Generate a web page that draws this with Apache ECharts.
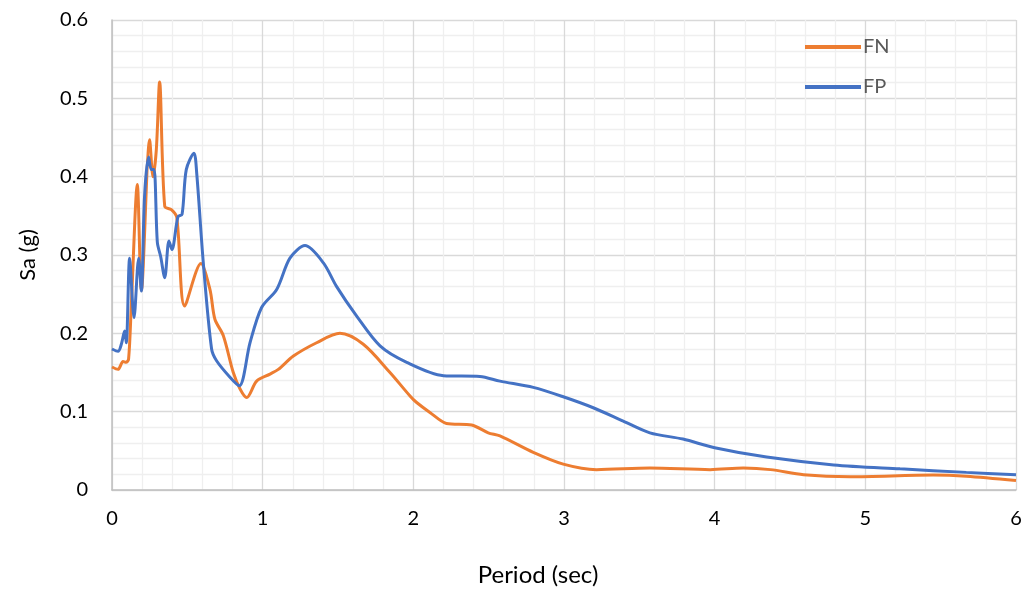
<!DOCTYPE html>
<html>
<head>
<meta charset="utf-8">
<script src="https://cdn.jsdelivr.net/npm/echarts@6/dist/echarts.min.js"></script>
<style>
  html, body { margin: 0; padding: 0; background: #ffffff; }
  #chart { width: 1027px; height: 592px; }
</style>
</head>
<body>
<div id="chart"></div>
<script>
// Response spectra: spectral acceleration vs. period
const seriesNames = ['FN', 'FP'];

const fnPeriod = [0.0, 0.04, 0.073, 0.093, 0.11, 0.128, 0.168, 0.195, 0.25, 0.272, 0.294, 0.316, 0.35, 0.394, 0.43, 0.482,
  0.59, 0.65, 0.683, 0.739, 0.805, 0.85, 0.894, 0.96, 1.049, 1.104, 1.204, 1.358, 1.513, 1.668, 1.845, 1.978, 2.02,
  2.11, 2.22, 2.387, 2.497, 2.575, 2.796, 2.995, 3.216, 3.57, 3.97, 4.19, 4.37, 4.59, 4.9, 5.45, 5.67, 6.0];
const fnSa = [0.157, 0.154, 0.164, 0.163, 0.167, 0.235, 0.39, 0.255, 0.447, 0.40, 0.434, 0.521, 0.362, 0.358, 0.348, 0.235,
  0.289, 0.256, 0.218, 0.197, 0.15, 0.129, 0.118, 0.139, 0.148, 0.154, 0.171, 0.188, 0.200, 0.186, 0.150, 0.120, 0.112,
  0.099, 0.085, 0.083, 0.073, 0.069, 0.048, 0.033, 0.026, 0.028, 0.026, 0.028, 0.026, 0.0195, 0.017, 0.019, 0.0175, 0.012];

const fpPeriod = [0.0, 0.04, 0.062, 0.084, 0.095, 0.117, 0.146, 0.177, 0.195, 0.216, 0.243, 0.261, 0.279, 0.301, 0.323,
  0.35, 0.378, 0.398, 0.438, 0.465, 0.493, 0.544, 0.562, 0.606, 0.661, 0.694, 0.783, 0.845, 0.916, 0.993, 1.093, 1.181,
  1.281, 1.403, 1.49, 1.624, 1.779, 1.956, 2.2, 2.442, 2.575, 2.796, 2.995, 3.194, 3.393, 3.57, 3.79, 4.0, 4.345, 4.79,
  5.23, 5.67, 6.0];
const fpSa = [0.18, 0.177, 0.186, 0.203, 0.188, 0.296, 0.22, 0.296, 0.254, 0.375, 0.425, 0.409, 0.409, 0.316, 0.298,
  0.271, 0.318, 0.307, 0.349, 0.352, 0.409, 0.43, 0.405, 0.29, 0.18, 0.165, 0.144, 0.133, 0.188, 0.233, 0.256, 0.296,
  0.312, 0.29, 0.26, 0.222, 0.184, 0.163, 0.146, 0.145, 0.139, 0.131, 0.119, 0.105, 0.088, 0.073, 0.065, 0.054, 0.042, 0.032,
  0.027, 0.0225, 0.0195];

const xAxisTitle = 'Period (sec)';
const yAxisTitle = 'Sa (g)';

const pairs = (xs, ys) => xs.map((x, i) => [x, ys[i]]);
const FONT = 'Lato, "Open Sans", sans-serif';

const chart = echarts.init(document.getElementById('chart'), null, { renderer: 'canvas' });

chart.setOption({
  animation: false,
  backgroundColor: '#ffffff',
  grid: { left: 112, right: 11, top: 20, bottom: 101, containLabel: false },
  legend: {
    orient: 'vertical',
    left: 800,
    top: 32,
    itemWidth: 56,
    itemHeight: 4,
    itemGap: 20,
    icon: 'rect',
    textStyle: { fontFamily: FONT, fontSize: 20, color: '#595959', padding: [0, 0, 0, -3] },
    data: seriesNames
  },
  xAxis: {
    type: 'value',
    min: 0, max: 6, interval: 1,
    name: xAxisTitle,
    nameLocation: 'middle',
    nameGap: 73,
    // title sits slightly left of the plot centre
    nameTextStyle: { fontFamily: FONT, fontSize: 24, color: '#000000', padding: [0, 52, 0, 0] },
    axisLine: { show: true, lineStyle: { color: '#bfbfbf', width: 1.5 } },
    axisTick: { show: false },
    axisLabel: { fontFamily: FONT, fontSize: 20, color: '#000000', margin: 19 },
    splitLine: { show: true, lineStyle: { color: '#d9d9d9', width: 1.3 } },
    minorTick: { show: false, splitNumber: 5 },
    minorSplitLine: { show: true, lineStyle: { color: '#efefef', width: 1.3 } }
  },
  yAxis: {
    type: 'value',
    min: 0, max: 0.6, interval: 0.1,
    name: yAxisTitle,
    nameLocation: 'middle',
    nameGap: 73,
    nameRotate: 90,
    nameTextStyle: { fontFamily: FONT, fontSize: 22, color: '#000000' },
    axisLine: { show: true, lineStyle: { color: '#bfbfbf', width: 1.5 } },
    axisTick: { show: false },
    axisLabel: { fontFamily: FONT, fontSize: 20, color: '#000000', margin: 24,
      formatter: v => (v === 0 ? '0' : v.toFixed(1)) },
    splitLine: { show: true, lineStyle: { color: '#d9d9d9', width: 1.3 } },
    minorTick: { show: false, splitNumber: 5 },
    minorSplitLine: { show: true, lineStyle: { color: '#efefef', width: 1.3 } }
  },
  series: [
    {
      name: seriesNames[0],
      type: 'line',
      data: pairs(fnPeriod, fnSa),
      smooth: 0.3,
      showSymbol: false,
      symbol: 'none',
      lineStyle: { color: '#ED7D31', width: 3 },
      itemStyle: { color: '#ED7D31' },
      z: 3
    },
    {
      name: seriesNames[1],
      type: 'line',
      data: pairs(fpPeriod, fpSa),
      smooth: 0.3,
      showSymbol: false,
      symbol: 'none',
      lineStyle: { color: '#4472C4', width: 3 },
      itemStyle: { color: '#4472C4' },
      z: 4
    }
  ]
});
</script>
</body>
</html>
